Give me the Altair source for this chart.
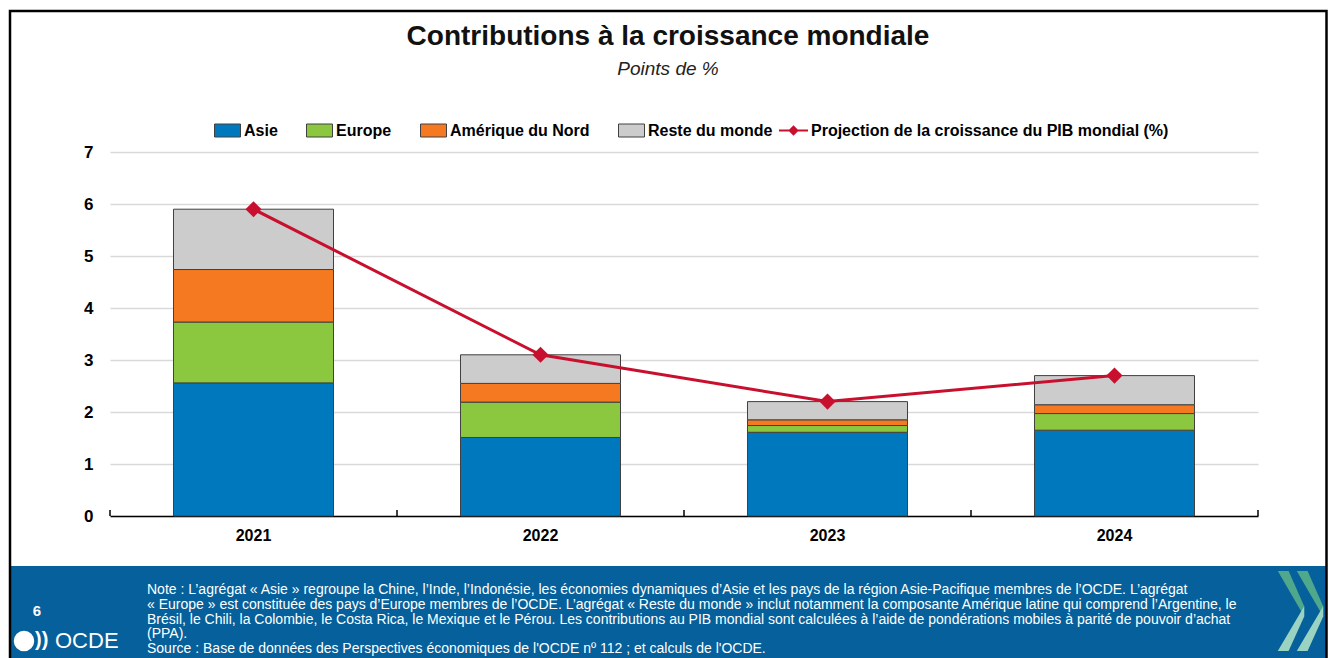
import altair as alt
import pandas as pd

# ---------------- data ----------------
years = ["2021", "2022", "2023", "2024"]
asie = [2.56, 1.51, 1.61, 1.65]
europe = [1.17, 0.68, 0.13, 0.32]
amerique_nord = [1.01, 0.36, 0.11, 0.17]
reste_monde = [1.16, 0.55, 0.35, 0.56]
projection = [5.9, 3.1, 2.2, 2.7]

regions = ["Asie", "Europe", "Amérique du Nord", "Reste du monde"]
region_colors = ["#0078be", "#8cc83f", "#f47920", "#cccccc"]
line_label = "Projection de la croissance du PIB mondial (%)"
line_color = "#c8102e"
y_ticks = [0, 1, 2, 3, 4, 5, 6, 7]

title_text = "Contributions à la croissance mondiale"
subtitle_text = "Points de %"
note_lines = [
    "Note : L’agrégat « Asie » regroupe la Chine, l’Inde, l’Indonésie, les économies dynamiques d’Asie et les pays de la région Asie-Pacifique membres de l’OCDE. L’agrégat",
    "« Europe » est constituée des pays d’Europe membres de l’OCDE. L’agrégat « Reste du monde » inclut notamment la composante Amérique latine qui comprend l’Argentine, le",
    "Brésil, le Chili, la Colombie, le Costa Rica, le Mexique et le Pérou. Les contributions au PIB mondial sont calculées à l’aide de pondérations mobiles  à parité de pouvoir d’achat",
    "(PPA).",
    "Source : Base de données des Perspectives économiques de l'OCDE nº 112 ; et calculs de l'OCDE.",
]
page_number = "6"
logo_text = "OCDE"

# ---------------- layout ----------------
W, H = 1148, 364
PAD_L, PAD_T, PAD_R, PAD_B = 102, 144, 70, 142
FONT = "Liberation Sans"
PAD_INNER, PAD_OUTER = 0.4425, 0.22125
STEP = W / (len(years) - PAD_INNER + 2 * PAD_OUTER)
EDGE_OFF = PAD_INNER * STEP / 2
FOOTER_BLUE = "#05609b"
RIGHT_EDGE = W + PAD_R - 1.5
BOTTOM_EDGE = H + PAD_B + 10

series = [asie, europe, amerique_nord, reste_monde]
rows = []
for ri, (reg, vals) in enumerate(zip(regions, series)):
    for y, v in zip(years, vals):
        rows.append({"year": y, "region": reg, "value": v, "idx": ri})
df_bars = pd.DataFrame(rows)
df_line = pd.DataFrame({"year": years, "value": projection, "series": line_label})
df_one = pd.DataFrame({"k": [0]})

y_scale = alt.Scale(domain=[0, 7], nice=False)

x_enc = alt.X(
    "year:N", sort=years,
    scale=alt.Scale(paddingInner=PAD_INNER, paddingOuter=PAD_OUTER),
    axis=alt.Axis(title=None, labelAngle=0, labelFont=FONT, labelFontSize=16,
                  labelFontWeight="bold", labelColor="#000000", labelPadding=11,
                  ticks=False, grid=False, domainColor="#000000", domainWidth=1.5),
)
y_enc = alt.Y(
    "value:Q", stack="zero", scale=y_scale,
    axis=alt.Axis(title=None, values=y_ticks, format="d", labelFont=FONT,
                  labelFontSize=17, labelFontWeight="bold", labelColor="#000000",
                  labelPadding=17, ticks=False, domain=False,
                  gridColor="#d9d9d9", gridWidth=1.5),
)

rect_path = "M-1,-0.5L1,-0.5L1,0.5L-1,0.5Z"
line_sym = "M-1,-0.07L1,-0.07L1,0.07L-1,0.07Z M-0.36,0L0,-0.36L0.36,0L0,0.36Z"

footer = alt.Chart(df_one).mark_rect(color=FOOTER_BLUE).encode(
    x=alt.value(-100), x2=alt.value(RIGHT_EDGE), y=alt.value(414), y2=alt.value(BOTTOM_EDGE)
)

bars = alt.Chart(df_bars).mark_bar(stroke="#404040", strokeWidth=1).encode(
    x=x_enc,
    y=y_enc,
    fill=alt.Fill("region:N", scale=alt.Scale(domain=regions, range=region_colors),
                  legend=alt.Legend(orient="none", legendX=104, legendY=-35,
                                    direction="horizontal", title=None,
                                    labelFont=FONT, labelFontSize=16, labelFontWeight="bold",
                                    labelColor="#000000", symbolType=rect_path,
                                    symbolSize=676, symbolStrokeColor="#404040",
                                    symbolStrokeWidth=1, columnPadding=26,
                                    labelOffset=3, padding=0, labelLimit=400)),
    order=alt.Order("idx:Q"),
)

line = alt.Chart(df_line).mark_line(color=line_color, strokeWidth=3).encode(
    x=alt.X("year:N", sort=years), y=alt.Y("value:Q", scale=y_scale)
)
points = alt.Chart(df_line).mark_point(shape="diamond", filled=True, size=260,
                                        opacity=1).encode(
    x=alt.X("year:N", sort=years), y=alt.Y("value:Q", scale=y_scale),
    color=alt.Color("series:N", scale=alt.Scale(domain=[line_label], range=[line_color]),
                    legend=alt.Legend(orient="none", legendX=669, legendY=-36,
                                      direction="horizontal", title=None,
                                      labelFont=FONT, labelFontSize=16, labelFontWeight="bold",
                                      labelColor="#000000", symbolType=line_sym,
                                      symbolSize=841, symbolStrokeWidth=0,
                                      labelOffset=3, padding=0, labelLimit=500)),
)

df_edges = pd.DataFrame({"year": years})
ticks_left = alt.Chart(df_edges).mark_rule(color="#000000", strokeWidth=1.5,
                                           xOffset=-EDGE_OFF).encode(
    x=alt.X("year:N", sort=years, bandPosition=0), y=alt.value(H - 6), y2=alt.value(H)
)
ticks_right = alt.Chart(df_edges.tail(1)).mark_rule(color="#000000", strokeWidth=1.5,
                                                    xOffset=EDGE_OFF).encode(
    x=alt.X("year:N", sort=years, bandPosition=1), y=alt.value(H - 6), y2=alt.value(H)
)

title = alt.Chart(df_one).mark_text(font=FONT, fontSize=28, fontWeight="bold",
                                    color="#111111", align="center",
                                    baseline="middle").encode(
    x=alt.value(558), y=alt.value(-115), text=alt.value(title_text)
)
subtitle = alt.Chart(df_one).mark_text(font=FONT, fontSize=19, fontStyle="italic",
                                       color="#222222", align="center",
                                       baseline="middle").encode(
    x=alt.value(558), y=alt.value(-83), text=alt.value(subtitle_text)
)

notes = alt.Chart(df_one).mark_text(font=FONT, fontSize=14, color="#ffffff",
                                    align="left", baseline="top", lineBreak="\n",
                                    lineHeight=14.8).encode(
    x=alt.value(37), y=alt.value(431), text=alt.value("\n".join(note_lines))
)

page_num = alt.Chart(df_one).mark_text(font=FONT, fontSize=15, fontWeight="bold",
                                       color="#ffffff", align="center",
                                       baseline="middle").encode(
    x=alt.value(-73), y=alt.value(459), text=alt.value(page_number)
)
globe = alt.Chart(df_one).mark_point(shape="circle", filled=True, size=420,
                                     opacity=1, color="#ffffff").encode(
    x=alt.value(-86), y=alt.value(489)
)
arcs = alt.Chart(df_one).mark_text(font=FONT, fontSize=20, fontWeight="bold",
                                   color="#ffffff", align="left",
                                   baseline="middle").encode(
    x=alt.value(-75), y=alt.value(488), text=alt.value("))")
)
logo = alt.Chart(df_one).mark_text(font=FONT, fontSize=22, color="#ffffff",
                                   align="left", baseline="middle").encode(
    x=alt.value(-55), y=alt.value(489), text=alt.value(logo_text)
)

chev_top = "M-0.33,-1L-0.06,-1L0.33,-0.12L0.33,0.14Z"
chev_bot = "M0.33,-0.12L0.33,0.14L-0.06,1L-0.33,1Z"
chevrons = []
for cx in [1181, 1200]:
    chevrons.append(alt.Chart(df_one).mark_point(shape=chev_top, filled=True, size=6400,
                                                 opacity=1, color="#4fa88c",
                                                 strokeWidth=0).encode(
        x=alt.value(cx), y=alt.value(459)))
    chevrons.append(alt.Chart(df_one).mark_point(shape=chev_bot, filled=True, size=6400,
                                                 opacity=1, color="#9bd3c3",
                                                 strokeWidth=0).encode(
        x=alt.value(cx), y=alt.value(459)))

frame = alt.Chart(df_one).mark_rect(fill="transparent", stroke="#000000",
                                    strokeWidth=2.5).encode(
    x=alt.value(-100), x2=alt.value(RIGHT_EDGE), y=alt.value(-141), y2=alt.value(BOTTOM_EDGE)
)

chart = alt.layer(
    footer, bars, line, points, ticks_left, ticks_right, title, subtitle, notes,
    page_num, globe, arcs, logo, *chevrons, frame
).properties(
    width=W, height=H,
    autosize=alt.AutoSizeParams(type="none"),
    padding={"left": PAD_L, "top": PAD_T, "right": PAD_R, "bottom": PAD_B},
    background="#ffffff",
).configure_view(stroke=None)

chart.save("out.html", embed_options={"renderer": "svg", "actions": False})
